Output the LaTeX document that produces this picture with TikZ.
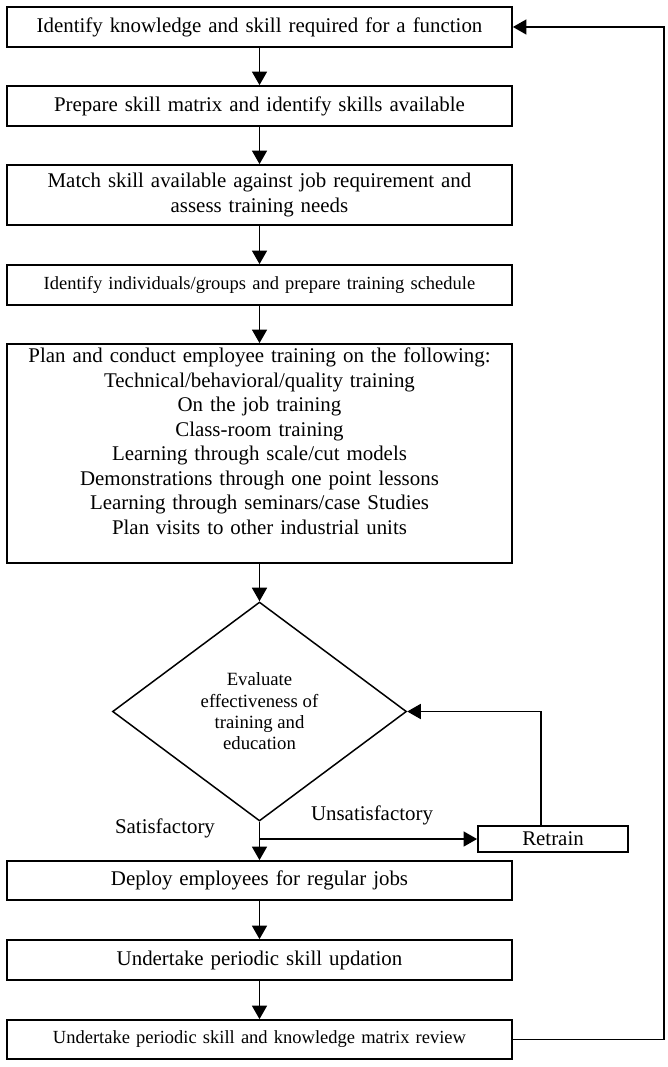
\documentclass[tikz,border=0pt]{standalone}
\usepackage{fontspec}
\setmainfont{Liberation Serif}
\usetikzlibrary{arrows.meta,shapes.geometric}

\begin{document}
\begin{tikzpicture}[x=1pt,y=-1pt,>={Triangle[length=13.5pt,width=15pt]},
  box/.style={draw,line width=1.8pt,minimum width=505pt,text width=495pt,align=center,inner sep=0pt,font=\fontsize{20.9}{24.5}\selectfont},
  smallbox/.style={box,font=\fontsize{18.5}{21.5}\selectfont},
  decision/.style={draw,diamond,line width=1.5pt,minimum width=294pt,minimum height=219pt,inner sep=0pt,align=center,font=\fontsize{18.7}{21.3}\selectfont},
  lbl/.style={inner sep=0pt,font=\fontsize{20.9}{24.5}\selectfont},
  link/.style={->,line width=1.5pt}]
  \useasboundingbox (0,0) rectangle (668,1067);
  % main column
  \node[box,minimum height=40pt] (ident) at (259.5,27) {Identify knowledge and skill required for a function};
  \node[box,minimum height=40pt] (prep) at (259.5,106) {Prepare skill matrix and identify skills available};
  \node[box,minimum height=60pt] (match) at (259.5,195) {Match skill available against job requirement and\\assess training needs};
  \node[smallbox,minimum height=40pt] (sched) at (259.5,285) {Identify individuals/groups and prepare training schedule};
  \node[box,minimum height=219pt] (plan) at (259.5,453.5) {Plan and conduct employee training on the following:\\
    Technical/behavioral/quality training\\
    On the job training\\
    Class-room training\\
    Learning through scale/cut models\\
    Demonstrations through one point lessons\\
    Learning through seminars/case Studies\\
    Plan visits to other industrial units\\
    \mbox{}};
  \node[decision] (eval) at (259.5,711.5) {Evaluate\\effectiveness of\\training and\\education};
  \node[box,minimum height=39pt] (deploy) at (259.5,880.5) {Deploy employees for regular jobs};
  \node[box,minimum height=40pt] (update) at (259.5,960) {Undertake periodic skill updation};
  \node[smallbox,minimum height=39pt] (review) at (259.5,1039.5) {Undertake periodic skill and knowledge matrix review};
  % retraining branch
  \node[draw,line width=1.8pt,minimum width=150pt,minimum height=26pt,inner sep=0pt,font=\fontsize{20.9}{24.5}\selectfont] (retrain) at (553,839) {Retrain};
  \node[lbl] (sat) at (165,828) {Satisfactory};
  \node[lbl] (unsat) at (372,815) {Unsatisfactory};
  % arrows
  \draw[link] (ident) -- (prep);
  \draw[link] (prep) -- (match);
  \draw[link] (match) -- (sched);
  \draw[link] (sched) -- (plan);
  \draw[link] (plan) -- (eval);
  \draw[link] (eval) -- (deploy);
  \draw[link] (deploy) -- (update);
  \draw[link] (update) -- (review);
  \draw[link] (eval.south |- retrain.west) -- (retrain.west);
  \draw[link] ([xshift=-12pt]retrain.north) |- (eval.east);
  % loop back to the top
  \draw[link] (review.east) -- ++(151,0) |- (ident.east);
\end{tikzpicture}
\end{document}
